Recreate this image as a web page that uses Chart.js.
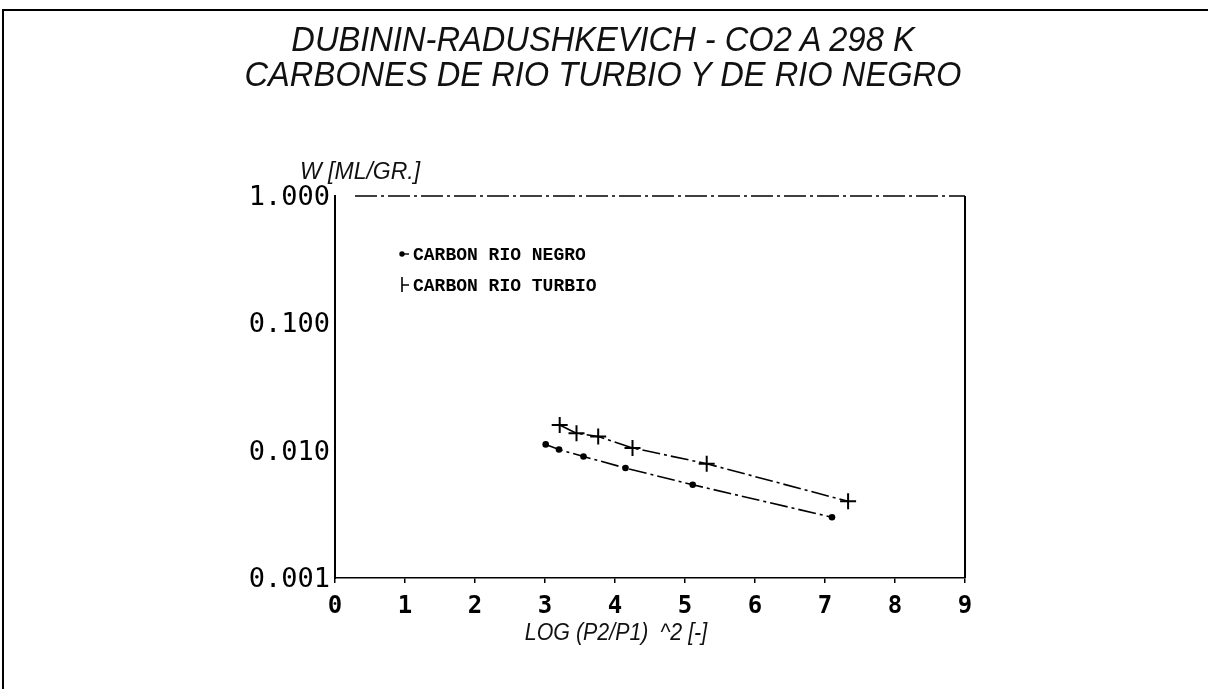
<!DOCTYPE html>
<html>
<head>
<meta charset="utf-8">
<script src="https://cdn.jsdelivr.net/npm/chart.js@4/dist/chart.umd.min.js"></script>
<style>
  html, body { margin: 0; padding: 0; background: #fff; }
  #wrap { position: relative; width: 1208px; height: 691px; overflow: hidden; }
  #frame { position: absolute; left: 2px; top: 9px; width: 1206px; height: 680px; border: 2px solid #000; border-right: none; border-bottom: none; box-sizing: border-box; }
  canvas { position: absolute; left: 0; top: 0; }
  .t { position: absolute; font-family: "Liberation Sans", Arial, sans-serif; font-style: italic; color: #111; white-space: nowrap; }
  #title1, #title2 { left: 0; width: 1206px; text-align: center; font-size: 32px; transform: scale(1.02, 1.1); transform-origin: 603px 50%; }
  #title1 { top: 21px; }
  #title2 { top: 56px; }
  #ytitle { left: 300px; top: 158px; font-size: 23px; }
  #xtitle { left: 456px; width: 320px; text-align: center; top: 619px; font-size: 23px; transform: scaleX(0.93); transform-origin: 160px 50%; }
</style>
</head>
<body>
<div id="wrap">
  <div id="frame"></div>
  <canvas id="c" width="1208" height="691"></canvas>
  <div class="t" id="title1">DUBININ-RADUSHKEVICH - CO2 A 298 K</div>
  <div class="t" id="title2">CARBONES DE RIO TURBIO Y DE RIO NEGRO</div>
  <div class="t" id="ytitle">W [ML/GR.]</div>
  <div class="t" id="xtitle">LOG (P2/P1) &nbsp;^2 [-]</div>
</div>
<script>
// ---- data ----
const seriesNames = ["CARBON RIO NEGRO", "CARBON RIO TURBIO"];
const negroX = [3.01, 3.20, 3.55, 4.15, 5.11, 7.10];
const negroY = [0.0112, 0.0102, 0.0090, 0.0073, 0.0054, 0.0030];
const turbioX = [3.21, 3.45, 3.76, 4.25, 5.31, 7.33];
const turbioY = [0.0159, 0.0137, 0.0129, 0.0105, 0.0079, 0.0040];
const yTickValues = [0.001, 0.01, 0.1, 1];
const xMin = 0, xMax = 9;

const toPts = (xs, ys) => xs.map((x, i) => ({x: x, y: ys[i]}));

const framePlugin = {
  id: 'frameLines',
  afterDraw(chart) {
    const {ctx, chartArea: a} = chart;
    ctx.save();
    ctx.strokeStyle = '#000';
    // top border (dashed)
    ctx.lineWidth = 1.6;
    ctx.setLineDash([22, 4, 3, 4]);
    ctx.beginPath(); ctx.moveTo(a.left + 20, a.top); ctx.lineTo(a.right, a.top); ctx.stroke();
    // right border
    ctx.setLineDash([]);
    ctx.lineWidth = 2;
    ctx.beginPath(); ctx.moveTo(a.right, a.top); ctx.lineTo(a.right, a.bottom); ctx.stroke();
    ctx.restore();
  }
};

const legendPlugin = {
  id: 'innerLegend',
  afterDraw(chart) {
    const {ctx, chartArea: a} = chart;
    ctx.save();
    ctx.font = 'bold 18px "Liberation Mono", "DejaVu Sans Mono", monospace';
    ctx.fillStyle = '#000';
    ctx.textBaseline = 'middle';
    chart.data.datasets.forEach((ds, i) => {
      const mx = a.left + 67, my = a.top + 58 + i * 31;
      ctx.strokeStyle = '#000';
      if (ds.pointStyle === 'circle') {
        ctx.beginPath(); ctx.arc(mx, my, 2.7, 0, Math.PI * 2); ctx.fill();
        ctx.lineWidth = 1.4;
        ctx.beginPath(); ctx.moveTo(mx, my); ctx.lineTo(mx + 7, my); ctx.stroke();
      } else {
        ctx.lineWidth = 1.6;
        ctx.beginPath(); ctx.moveTo(mx, my - 8); ctx.lineTo(mx, my + 7);
        ctx.moveTo(mx, my); ctx.lineTo(mx + 7, my); ctx.stroke();
      }
      ctx.fillText(ds.label, mx + 11, my + 1);
    });
    ctx.restore();
  }
};

new Chart(document.getElementById('c'), {
  type: 'scatter',
  data: {
    datasets: [
      {
        label: seriesNames[0],
        data: toPts(negroX, negroY),
        showLine: true,
        borderColor: '#000',
        backgroundColor: '#000',
        borderWidth: 1.6,
        borderDash: [18, 4, 3, 4],
        pointStyle: 'circle',
        pointRadius: 3.3,
        pointBorderWidth: 0
      },
      {
        label: seriesNames[1],
        data: toPts(turbioX, turbioY),
        showLine: true,
        borderColor: '#000',
        backgroundColor: '#000',
        borderWidth: 1.6,
        borderDash: [18, 4, 3, 4],
        pointStyle: 'cross',
        pointRadius: 8,
        pointBorderWidth: 2
      }
    ]
  },
  options: {
    responsive: false,
    animation: false,
    layout: { padding: { left: 0, top: 196, right: 243, bottom: 68 } },
    plugins: {
      legend: { display: false },
      title: { display: false },
      tooltip: { enabled: false }
    },
    scales: {
      x: {
        type: 'linear',
        min: xMin, max: xMax,
        afterFit(s) { s.height = 45; },
        ticks: {
          stepSize: 1,
          color: '#000',
          padding: 9,
          font: { family: '"DejaVu Sans Mono", monospace', size: 24, weight: 'bold' }
        },
        grid: { display: true, drawOnChartArea: false, drawTicks: true, tickLength: 5, color: '#000', lineWidth: 1.5 },
        border: { display: true, color: '#000', width: 1.5, dash: [7, 3] }
      },
      y: {
        type: 'logarithmic',
        min: 0.001, max: 1,
        afterFit(s) { s.width = 335; },
        afterBuildTicks(s) { s.ticks = yTickValues.map(v => ({value: v})); },
        ticks: {
          color: '#000',
          padding: 5,
          labelOffset: 2,
          callback: (v) => Number(v).toFixed(3),
          font: { family: '"DejaVu Sans Mono", monospace', size: 27 }
        },
        grid: { display: true, drawOnChartArea: false, drawTicks: false, color: '#000' },
        border: { display: true, color: '#000', width: 2 }
      }
    }
  },
  plugins: [framePlugin, legendPlugin]
});
</script>
</body>
</html>
